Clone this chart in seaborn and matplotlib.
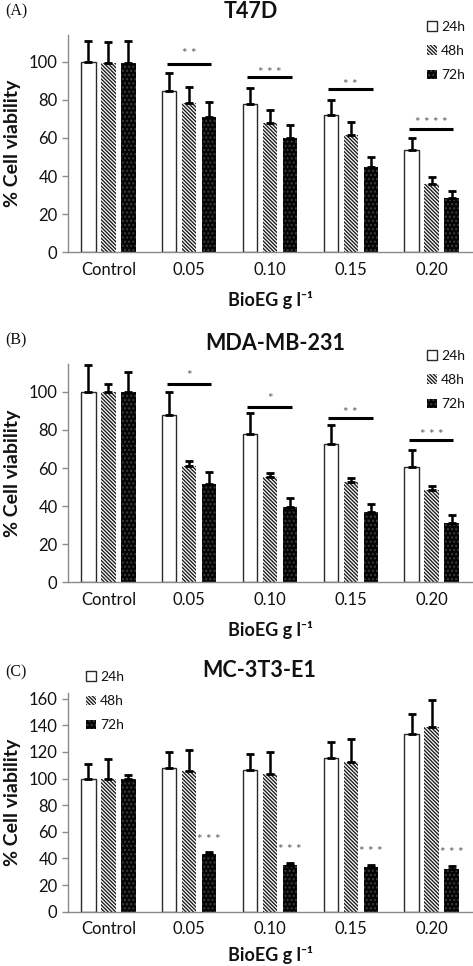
import numpy as np
import pandas as pd
import matplotlib
matplotlib.use("Agg")
import matplotlib.pyplot as plt
from matplotlib.patches import Patch
from matplotlib.container import BarContainer
import seaborn as sns

sns.set_theme(style="white")
plt.rcParams['font.family'] = ['Lato', 'DejaVu Sans']
plt.rcParams['hatch.linewidth'] = 1.0

# ---------------- data ----------------
doses = ["Control", "0.05", "0.10", "0.15", "0.20"]
times = ["24h", "48h", "72h"]

t47d_24 = [100, 84.7, 77.6, 72.2, 53.8]
t47d_48 = [99.5, 78.5, 67.6, 61.5, 35.6]
t47d_72 = [99.5, 70.8, 59.8, 44.6, 28.3]
t47d_24_err = [11, 9.5, 8.7, 7.7, 6.0]
t47d_48_err = [10.6, 8.0, 7.0, 6.7, 4.0]
t47d_72_err = [11.5, 8.0, 7.0, 5.5, 3.8]
t47d_sig_y = [98.9, 91.8, 85.5, 64.5]
t47d_star_y = [106, 96, 89.8, 70]
t47d_sig_lbl = ["**", "***", "**", "****"]

mda_24 = [100, 87.7, 78.1, 72.9, 60.8]
mda_48 = [100, 61.1, 55.5, 52.5, 48.3]
mda_72 = [100, 51.7, 39.4, 36.8, 31.0]
mda_24_err = [14.2, 12.5, 10.9, 9.9, 8.7]
mda_48_err = [4.0, 2.6, 2.1, 2.3, 2.5]
mda_72_err = [10.7, 6.1, 4.9, 4.5, 4.4]
mda_sig_y = [104.4, 91.9, 86.5, 74.8]
mda_star_y = [110.2, 98.4, 90.9, 79.5]
mda_sig_lbl = ["*", "*", "**", "***"]

mc_24 = [100, 108, 106.75, 115.25, 133.75]
mc_48 = [99.5, 105.75, 103.75, 112.75, 138.75]
mc_72 = [99.5, 43, 34.75, 33.5, 32.25]
mc_24_err = [11, 11.75, 11.5, 12.5, 14.5]
mc_48_err = [15.5, 15.75, 16.5, 16.75, 20.5]
mc_72_err = [3.5, 1.5, 1.5, 1.25, 1.75]
mc_star_y = [56.75, 48.75, 47.5, 46.75]
mc_sig_lbl = ["***", "***", "***", "***"]

titles = ["T47D", "MDA-MB-231", "MC-3T3-E1"]
panel_tags = ["(A)", "(B)", "(C)"]
ylabel = "% Cell viability"
xlabel = "BioEG g l\u207b\u00b9"

panels = [
    dict(vals=[t47d_24, t47d_48, t47d_72], errs=[t47d_24_err, t47d_48_err, t47d_72_err],
         ymax=114, yticks=np.arange(0, 101, 20), sig_y=t47d_sig_y, star_y=t47d_star_y,
         sig_lbl=t47d_sig_lbl, xlabelpad=9,
         rect=[68/473, 1-252.3/966, 404/473, 217.3/966],
         title_xy=(250.7, 17.5), tag_xy=(5, 11.7), legend_xy=(427, 21)),
    dict(vals=[mda_24, mda_48, mda_72], errs=[mda_24_err, mda_48_err, mda_72_err],
         ymax=114.5, yticks=np.arange(0, 101, 20), sig_y=mda_sig_y, star_y=mda_star_y,
         sig_lbl=mda_sig_lbl, xlabelpad=9,
         rect=[68/473, 1-582.3/966, 404/473, 218/966],
         title_xy=(275, 350), tag_xy=(5, 340), legend_xy=(427, 350)),
    dict(vals=[mc_24, mc_48, mc_72], errs=[mc_24_err, mc_48_err, mc_72_err],
         ymax=164, yticks=np.arange(0, 161, 20), sig_y=None, star_y=mc_star_y,
         sig_lbl=mc_sig_lbl, xlabelpad=6.5,
         rect=[68/473, 1-911.7/966, 404/473, 218.4/966],
         title_xy=(259, 677), tag_xy=(5, 672), legend_xy=(86, 671)),
]

W, H = 473, 966
fig = plt.figure(figsize=(W/100, H/100), dpi=100)

spine_col = "#8a8a8a"
txt_col = "#111111"
star_col = "#5e5e5e"
HATCH48 = "\\" * 9
HATCH72 = "...."

def style_bars(container, kind):
    for p in container:
        if kind == 0:
            p.set_facecolor("white"); p.set_edgecolor("#2a2a2a"); p.set_linewidth(1.0)
            p.set_hatch(None)
        elif kind == 1:
            p.set_facecolor("white"); p.set_edgecolor("#1e1e1e"); p.set_linewidth(0)
            p.set_hatch(HATCH48)
        else:
            p.set_facecolor("#050505"); p.set_edgecolor("#3c3c3c"); p.set_linewidth(0)
            p.set_hatch(HATCH72)

for pi, P in enumerate(panels):
    ax = fig.add_axes(P["rect"])
    df = pd.DataFrame({
        "dose": np.tile(doses, 3),
        "time": np.repeat(times, len(doses)),
        "value": np.concatenate(P["vals"]),
    })
    sns.barplot(data=df, x="dose", y="value", hue="time", order=doses, hue_order=times,
                width=0.74, gap=0.28, errorbar=None, legend=False,
                palette=["white", "white", "black"], ax=ax)
    bar_conts = [c for c in ax.containers if isinstance(c, BarContainer)]
    for k, cont in enumerate(bar_conts):
        style_bars(cont, k)
        xs = [p.get_x() + p.get_width()/2 for p in cont]
        hs = [p.get_height() for p in cont]
        e = P["errs"][k]
        ax.errorbar(xs, hs, yerr=[np.zeros(len(e)), e], fmt="none", ecolor="black",
                    elinewidth=1.8, capsize=2.6, capthick=2.0, zorder=3)

    ax.set_xlim(-0.5, 4.5)
    ax.set_ylim(0, P["ymax"])
    ax.set_yticks(P["yticks"])
    ax.set_xticks(range(len(doses)))
    ax.set_xticklabels(doses)
    ax.set_xticks(np.arange(-0.5, 4.6, 1), minor=True)
    ax.tick_params(axis="x", which="major", length=0, pad=7, labelsize=12, labelcolor=txt_col)
    ax.tick_params(axis="x", which="minor", length=4, width=1, color=spine_col, direction="out")
    ax.tick_params(axis="y", which="major", length=4.5, width=1, color=spine_col, direction="out",
                   pad=3, labelsize=12, labelcolor=txt_col, left=True)
    for s in ["top", "right"]:
        ax.spines[s].set_visible(False)
    for s in ["left", "bottom"]:
        ax.spines[s].set_color(spine_col)
        ax.spines[s].set_linewidth(1.0)
    ax.set_xlabel(xlabel, fontsize=13, fontweight="bold", color=txt_col, labelpad=P["xlabelpad"])
    ax.set_ylabel(ylabel, fontsize=14, fontweight="bold", color=txt_col)
    ax.yaxis.set_label_coords(-0.117, 0.5)

    # significance marks
    if P["sig_y"] is not None:
        for j, (yv, sy, lbl) in enumerate(zip(P["sig_y"], P["star_y"], P["sig_lbl"])):
            c = j + 1
            ax.plot([c - 0.28, c + 0.27], [yv, yv], color="black", lw=2.2, solid_capstyle="butt")
            ax.annotate(" ".join(lbl), xy=(c, sy), xytext=(0, -5.5), textcoords="offset points",
                        ha="center", va="baseline", fontsize=9.5, color=star_col)
    else:
        cont = bar_conts[2]
        for j, (sy, lbl) in enumerate(zip(P["star_y"], P["sig_lbl"])):
            p = cont[j + 1]
            x = p.get_x() + p.get_width()/2
            ax.annotate(" ".join(lbl), xy=(x, sy), xytext=(0, -5.5), textcoords="offset points",
                        ha="center", va="baseline", fontsize=9.5, color=star_col)

    tx, ty = P["title_xy"]
    fig.text(tx/W, 1 - ty/H, titles[pi], ha="center", va="baseline", fontsize=15.5,
             fontweight="bold", color=txt_col)
    gx, gy = P["tag_xy"]
    fig.text(gx/W, 1 - gy/H, panel_tags[pi], ha="left", va="center", fontsize=11.5,
             family="Liberation Serif", color=txt_col)

    handles = [Patch(facecolor="white", edgecolor="#2a2a2a", linewidth=1.0),
               Patch(facecolor="white", edgecolor="#1e1e1e", linewidth=0, hatch=HATCH48),
               Patch(facecolor="#050505", edgecolor="#3c3c3c", linewidth=0, hatch=HATCH72)]
    lx, ly = P["legend_xy"]
    fig.legend(handles, times, loc="upper left", bbox_to_anchor=(lx/W, 1 - ly/H),
               frameon=False, fontsize=10, handlelength=0.7, handleheight=0.7,
               handletextpad=0.3, labelspacing=0.88, borderpad=0, borderaxespad=0,
               labelcolor=txt_col)

fig.savefig("out.png", dpi=100)
